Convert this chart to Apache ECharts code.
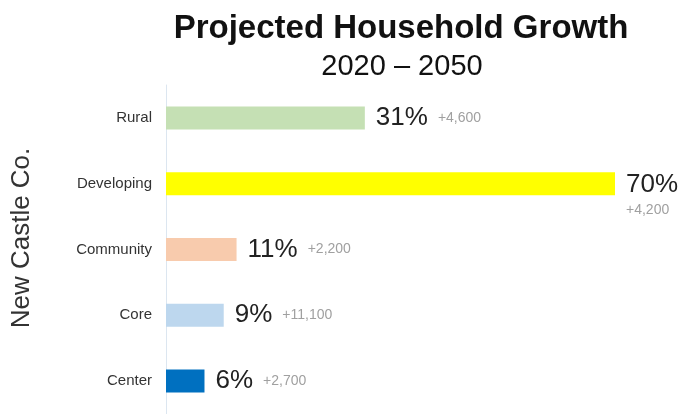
<!DOCTYPE html>
<html>
<head>
<meta charset="utf-8">
<script src="https://cdn.jsdelivr.net/npm/echarts@6/dist/echarts.min.js"></script>
<style>html,body{margin:0;padding:0;background:#fff}#c{width:685px;height:414px}</style>
</head>
<body>
<div id="c"></div>
<script>
var categories = ['Rural', 'Developing', 'Community', 'Core', 'Center'];
var growthPct = [31, 70, 11, 9, 6];
var households = ['+4,600', '+4,200', '+2,200', '+11,100', '+2,700'];
var colors = ['#c5e0b4', '#ffff00', '#f8cbad', '#bdd7ee', '#0070c0'];
var FONT = 'Liberation Sans, Arial, sans-serif';

var chart = echarts.init(document.getElementById('c'));
var data = growthPct.map(function (v, i) {
  var stacked = categories[i] === 'Developing';
  return {
    value: v,
    itemStyle: { color: colors[i] },
    label: stacked ? {
      formatter: '{a|' + v + '%}\n{c|' + households[i] + '}',
      align: 'left',
      offset: [0, 13]
    } : {
      formatter: '{a|' + v + '%}{s|}{b|' + households[i] + '}',
      align: 'left'
    }
  };
});
chart.setOption({
  animation: false,
  textStyle: { fontFamily: FONT },
  title: [{
    text: 'Projected Household Growth',
    left: 396, top: 7, textAlign: 'center',
    textStyle: { fontSize: 33, fontWeight: 'bold', color: '#111', fontFamily: FONT }
  }, {
    text: '2020 – 2050',
    left: 397, top: 47, textAlign: 'center',
    textStyle: { fontSize: 29, fontWeight: 'normal', color: '#111', fontFamily: FONT }
  }],
  graphic: [{
    type: 'text', x: 22, y: 238, rotation: Math.PI / 2,
    style: { text: 'New Castle Co.', font: '26px ' + FONT, fill: '#333', align: 'center', verticalAlign: 'middle' }
  }],
  grid: { left: 166, right: 70, top: 85, bottom: -2, containLabel: false },
  xAxis: { type: 'value', min: 0, max: 70, show: false },
  yAxis: {
    type: 'category', data: categories, inverse: true,
    axisLine: { show: true, lineStyle: { color: '#dce6f0', width: 1 } },
    axisTick: { show: false },
    axisLabel: { fontSize: 15, color: '#333', margin: 14 }
  },
  series: [{
    type: 'bar', barWidth: 23, data: data,
    label: {
      show: true, position: 'right', distance: 11,
      rich: {
        a: { fontSize: 26, color: '#222' },
        s: { width: 10 },
        b: { fontSize: 14, color: '#a0a0a0' },
        c: { fontSize: 14, color: '#a0a0a0', lineHeight: 24 }
      }
    }
  }]
});
</script>
</body>
</html>
